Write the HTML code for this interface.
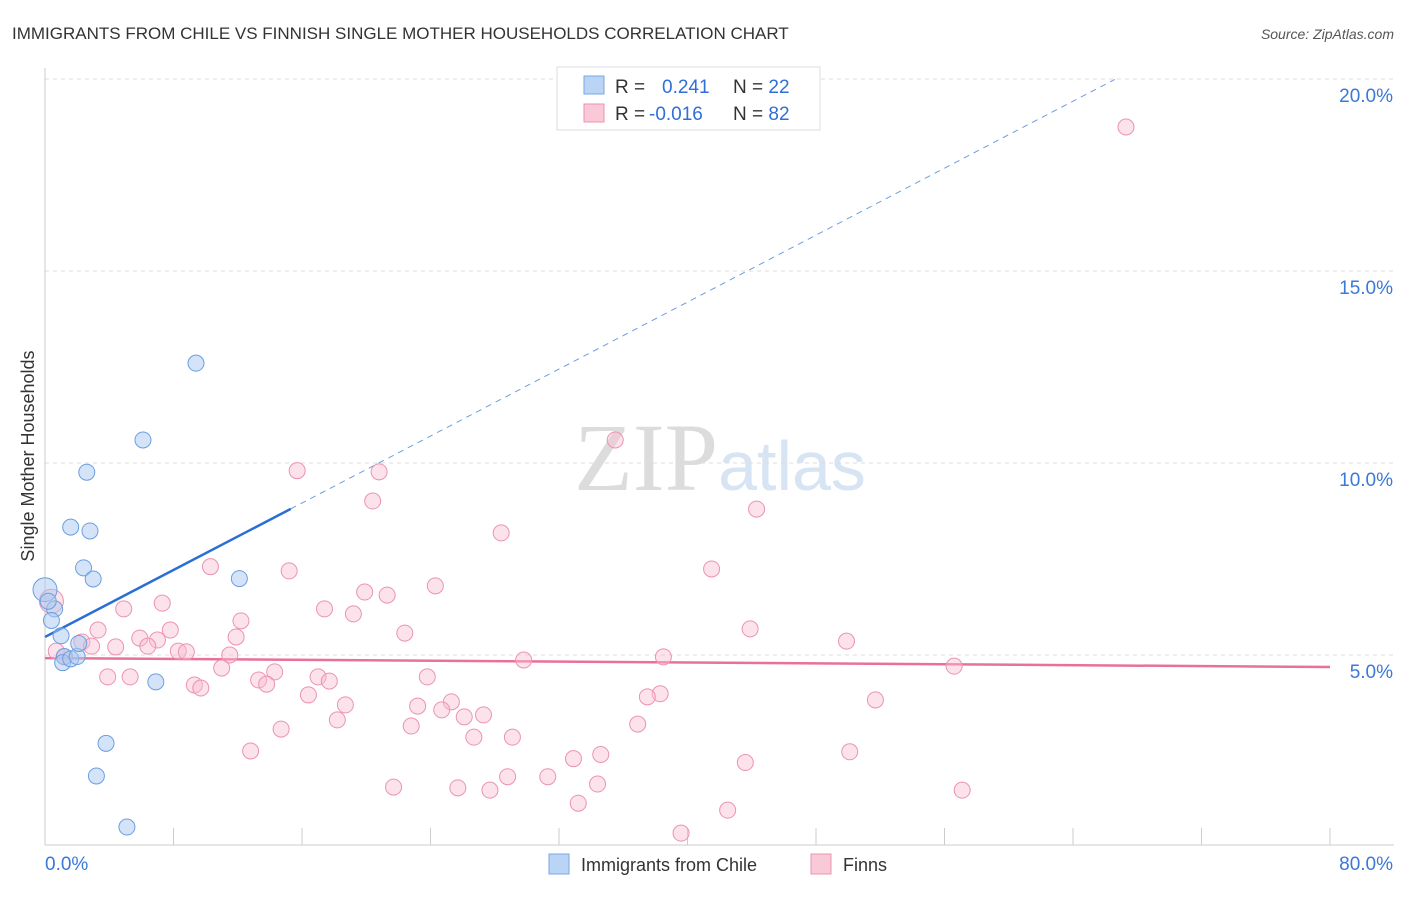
<!DOCTYPE html>
<html><head><meta charset="utf-8"><style>
body{margin:0;background:#fff;font-family:"Liberation Sans",sans-serif;}
svg text{font-family:"Liberation Sans",sans-serif;}
</style></head><body>
<svg id="chart" width="1406" height="892" viewBox="0 0 1406 892" xmlns="http://www.w3.org/2000/svg">
<text x="12" y="39" font-size="17" fill="#333">IMMIGRANTS FROM CHILE VS FINNISH SINGLE MOTHER HOUSEHOLDS CORRELATION CHART</text>
<text x="1394" y="39" font-size="14" fill="#555" text-anchor="end" font-style="italic">Source: ZipAtlas.com</text>
<text x="720" y="490" font-size="96" text-anchor="middle"><tspan font-family="Liberation Serif" fill="#dcdcdc">ZIP</tspan><tspan font-family="Liberation Sans" font-size="70" fill="#d6e4f4">atlas</tspan></text>
<g id="grid"></g>
<g id="axes"></g>
<text transform="translate(34,456) rotate(-90)" font-size="18" fill="#333" text-anchor="middle">Single Mother Households</text>
<g id="trend"></g>
<g id="pts"></g>
<g>
<rect x="557" y="67" width="263" height="63" fill="#fff" stroke="#ddd"/>
<rect x="584" y="76" width="20" height="18" fill="#b9d4f5" stroke="#7aa7e0"/>
<rect x="584" y="104" width="20" height="18" fill="#f9c9d7" stroke="#ec93b0"/>
<text x="615" y="93" font-size="19" fill="#333">R = <tspan fill="#2f6fd6" x="662">0.241</tspan><tspan fill="#333" x="733">N = </tspan><tspan fill="#2f6fd6">22</tspan></text>
<text x="615" y="120" font-size="19" fill="#333">R = <tspan fill="#2f6fd6" x="649">-0.016</tspan><tspan fill="#333" x="733">N = </tspan><tspan fill="#2f6fd6">82</tspan></text>
</g>
<g>
<rect x="549" y="854" width="20" height="20" fill="#b9d4f5" stroke="#7aa7e0"/>
<text x="581" y="871" font-size="18" fill="#333">Immigrants from Chile</text>
<rect x="811" y="854" width="20" height="20" fill="#f9c9d7" stroke="#ec93b0"/>
<text x="843" y="871" font-size="18" fill="#333">Finns</text>
</g>
</svg>
<script>
const yTickValues=[5,10,15,20];
const yTickLabels=["5.0%","10.0%","15.0%","20.0%"];
const xTickLabels=["0.0%","80.0%"];
const blueX=[0,0.6,0.4,1,1.2,1.1,1.6,2,2.1,1.6,2.8,2.6,2.4,3,6.1,9.4,12.1,6.9,3.8,3.2,5.1,0.2];
const blueY=[6.7,6.2,5.9,5.5,4.96,4.8,4.9,4.96,5.3,8.33,8.23,9.76,7.27,6.98,10.6,12.6,6.99,4.3,2.7,1.85,0.52,6.4];
const blueSize=[12,8,8,8,8,8,8,8,8,8,8,8,8,8,8,8,8,8,8,8,8,8];
const pinkX=[67.3,35.5,15.7,20.8,20.4,28.4,44.3,10.3,15.2,41.5,24.3,19.9,21.3,4.9,7.3,17.4,19.2,12.2,3.3,7.8,11.9,22.4,5.9,7,43.9,49.9,0.4,2.3,2.9,4.4,6.4,8.3,8.8,11.5,29.8,38.5,56.6,11,14.3,3.9,5.3,13.3,13.8,17,17.7,23.8,9.3,9.7,16.4,25.3,38.3,37.5,51.7,18.7,23.2,24.7,18.2,22.8,26.1,27.3,36.9,14.7,26.7,29.1,12.8,34.6,32.9,43.6,50.1,28.8,31.3,21.7,25.7,27.7,34.4,57.1,33.2,42.5,39.6,0.7,1.2];
const pinkY=[18.75,10.6,9.8,9.77,9.01,8.18,8.8,7.3,7.19,7.24,6.8,6.64,6.56,6.2,6.35,6.2,6.07,5.89,5.65,5.65,5.47,5.57,5.44,5.39,5.68,5.36,6.4,5.34,5.23,5.21,5.23,5.1,5.08,5,4.87,4.95,4.71,4.66,4.56,4.43,4.43,4.35,4.24,4.43,4.32,4.43,4.22,4.14,3.96,3.78,3.99,3.91,3.83,3.7,3.67,3.57,3.31,3.15,3.39,3.44,3.2,3.07,2.86,2.86,2.5,2.41,2.3,2.2,2.48,1.83,1.83,1.56,1.54,1.48,1.64,1.48,1.14,0.96,0.36,5.1,4.95];
const blueTrend=[5.47,0.218];
const pinkTrend=[4.92,-0.0029];
</script>
<script>
const NS="http://www.w3.org/2000/svg";
const X0=45,X1=1330,Y0=847,PY=38.4;
function sx(v){return X0+(X1-X0)*v/80;}
function sy(v){return Y0-v*PY;}
function mk(tag,attrs,parent){const e=document.createElementNS(NS,tag);for(const k in attrs)e.setAttribute(k,attrs[k]);parent.appendChild(e);return e;}
const gridG=document.getElementById('grid'),axesG=document.getElementById('axes'),trendG=document.getElementById('trend'),ptsG=document.getElementById('pts');
yTickValues.forEach((v,i)=>{
 const l=mk('line',{x1:X0,x2:1394,y1:sy(v),y2:sy(v),stroke:'#ddd','stroke-dasharray':'4,4'},gridG);
 
 
 const t=mk('text',{x:1393,y:sy(v)+23,'font-size':19,fill:'#3b78d8','text-anchor':'end'},axesG);
 t.textContent=yTickLabels[i];
 
 
});
const topLine=mk('line',{x1:X0,x2:1394,y1:79,y2:79,stroke:'#ddd','stroke-dasharray':'4,4'},gridG);


const ya=mk('line',{x1:X0,x2:X0,y1:68,y2:845,stroke:'#ccc'},axesG);


const xa=mk('line',{x1:X0,x2:1394,y1:845,y2:845,stroke:'#ccc'},axesG);


for(let i=0;i<=10;i++){
 const tk=mk('line',{x1:sx(i*8),x2:sx(i*8),y1:828,y2:845,stroke:'#ccc'},axesG);
 
 
}
const xl0=mk('text',{x:45,y:870,'font-size':19,fill:'#3b78d8'},axesG);xl0.textContent=xTickLabels[0];


const xl1=mk('text',{x:1393,y:870,'font-size':19,fill:'#3b78d8','text-anchor':'end'},axesG);xl1.textContent=xTickLabels[1];


pinkX.forEach((x,i)=>{
 const c=mk('circle',{cx:sx(x),cy:sy(pinkY[i]),r:i===26?12:8,fill:'rgba(248,190,208,0.45)',stroke:'#ec93b0','stroke-width':1},ptsG);
 
 
});
blueX.forEach((x,i)=>{
 const c=mk('circle',{cx:sx(x),cy:sy(blueY[i]),r:blueSize[i],fill:'rgba(170,200,240,0.5)',stroke:'#6b9fe0','stroke-width':1},ptsG);
 
 
});
const bxEnd=15.3,bxDash=66.6;
const b1=mk('line',{x1:sx(0),y1:sy(blueTrend[0]),x2:sx(bxEnd),y2:sy(blueTrend[0]+blueTrend[1]*bxEnd),stroke:'#2a6fd6','stroke-width':2.5},trendG);


const b2=mk('line',{x1:sx(bxEnd),y1:sy(blueTrend[0]+blueTrend[1]*bxEnd),x2:sx(bxDash),y2:sy(blueTrend[0]+blueTrend[1]*bxDash),stroke:'#6b9fe0','stroke-width':1,'stroke-dasharray':'6,5'},trendG);


const p1=mk('line',{x1:sx(0),y1:sy(pinkTrend[0]),x2:sx(80),y2:sy(pinkTrend[0]+pinkTrend[1]*80),stroke:'#e9709a','stroke-width':2.5},trendG);


</script>
</body></html>
